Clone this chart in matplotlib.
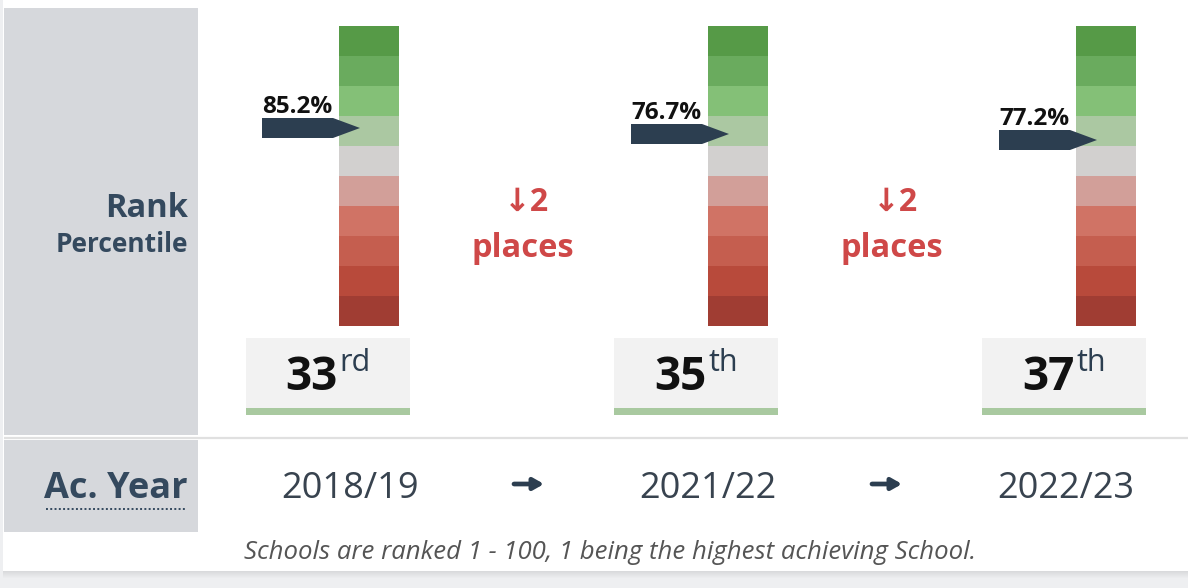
import matplotlib
matplotlib.use('Agg')
import matplotlib.pyplot as plt
from matplotlib.patches import Rectangle, Polygon

# ---------------- data ----------------
years = ['2018/19', '2021/22', '2022/23']
ranks = [33, 35, 37]
percentiles = [85.2, 76.7, 77.2]
suffixes = ['rd', 'th', 'th']
changes = [-2, -2]          # places moved between consecutive years
band_edges = [0, 10, 20, 30, 40, 50, 60, 70, 80, 90, 100]
band_colors = ['#569a47', '#6aab5e', '#84c077', '#abc8a2', '#d2d0cf',
               '#d29f99', '#d07365', '#c55e4f', '#b84a3b', '#a03d33']
footer = 'Schools are ranked 1 - 100, 1 being the highest achieving School.'

# ---------------- layout (pixels) ----------------
W, H = 1188, 588
year_x = [350, 708, 1066]
bar_left = [339, 708, 1076]
bar_top, bar_bottom, bar_w = 26, 326, 60
box_left = [246, 614, 982]
box_w = 164
change_x = [523, 892]
arrow_year_x = [529, 887]

FONT = ['Open Sans', 'DejaVu Sans']
plt.rcParams['font.family'] = FONT
SLATE = '#34495e'
NAVY = '#2c3e50'
RED = '#cf4848'

fig = plt.figure(figsize=(W / 100, H / 100), dpi=100, facecolor='#eeeff1')
bg = fig.add_axes([0, 0, 1, 1])
bg.set_xlim(0, W)
bg.set_ylim(H, 0)
bg.axis('off')

# card with soft shadow
for k in range(1, 8):
    bg.add_patch(Rectangle((3, -10), W + 20, 581 + k, fc='black', alpha=0.012, lw=0))
bg.add_patch(Rectangle((3, -10), W + 20, 581, fc='white', lw=0))

# left header panels
bg.add_patch(Rectangle((4, 8), 194, 427, fc='#d6d8dc', lw=0))
bg.add_patch(Rectangle((4, 440), 194, 92, fc='#d6d8dc', lw=0))
bg.plot([4, W], [437.5, 437.5], color='#e0e0e0', lw=1.6, solid_capstyle='butt')

bg.text(188, 217, 'Rank', ha='right', va='baseline', fontsize=23.5,
        fontweight='bold', color=SLATE)
bg.text(188, 252, 'Percentile', ha='right', va='baseline', fontsize=19,
        fontweight='bold', color=SLATE)
acy = bg.text(188, 498, 'Ac. Year', ha='right', va='baseline', fontsize=26,
              fontweight='bold', color=SLATE)

# percentile bars
unit_x = 1.0 / bar_w                       # data units per pixel (x)
unit_y = 100.0 / (bar_bottom - bar_top)    # data units per pixel (y)
for i in range(len(years)):
    ax = fig.add_axes([bar_left[i] / W, 1 - bar_bottom / H, bar_w / W,
                       (bar_bottom - bar_top) / H])
    ax.set_xlim(0, 1)
    ax.set_ylim(100, 0)
    ax.axis('off')
    for k, c in enumerate(band_colors):
        ax.bar(0.5, band_edges[k + 1] - band_edges[k], bottom=band_edges[k],
               width=1, color=c, lw=0)
    cy = ranks[i] + 1
    hh = 10 * unit_y
    x0, xb, xt = -77 * unit_x, -6 * unit_x, 21 * unit_x
    ax.add_patch(Polygon([(x0, cy - hh), (xb, cy - hh), (xt, cy),
                          (xb, cy + hh), (x0, cy + hh)], closed=True,
                         fc=NAVY, lw=0, clip_on=False, zorder=5))
    ax.text(x0, cy - hh - 5 * unit_y, f'{percentiles[i]}%', ha='left',
            va='baseline', fontsize=17.5, fontweight='bold', color='#111111',
            clip_on=False)

# rank boxes
rank_texts = []
for i in range(len(years)):
    bg.add_patch(Rectangle((box_left[i], 338), box_w, 70, fc='#f2f2f2', lw=0))
    bg.add_patch(Rectangle((box_left[i], 408), box_w, 7, fc='#a9c9a0', lw=0))
    t1 = bg.text(box_left[i] + box_w / 2, 390, str(ranks[i]), ha='left',
                 va='baseline', fontsize=33, fontweight='bold', color='#111111')
    t2 = bg.annotate(suffixes[i], xy=(1, 1), xycoords=t1, xytext=(1, 4),
                     textcoords='offset points', ha='left', va='top',
                     fontsize=22, color=NAVY)
    rank_texts.append((t1, t2, box_left[i] + box_w / 2))

# change labels between years
for j, ch in enumerate(changes):
    arrow = '\u2193' if ch < 0 else '\u2191'
    n = abs(ch)
    bg.text(change_x[j] + 3, 211, f'{arrow}{n}', ha='center', va='baseline',
            fontsize=23, fontweight='bold', color=RED)
    bg.text(change_x[j], 257, 'places' if n != 1 else 'place', ha='center',
            va='baseline', fontsize=23.5, fontweight='bold', color=RED)

# years row
for i, y in enumerate(years):
    bg.text(year_x[i], 498, y, ha='center', va='baseline', fontsize=26,
            color='#38434f')
for x in arrow_year_x:
    bg.annotate('', xy=(x + 15, 484), xytext=(x - 15, 484),
                arrowprops=dict(arrowstyle='-|>,head_length=0.3,head_width=0.17',
                                lw=3.4, color=NAVY, shrinkA=0, shrinkB=0,
                                mutation_scale=20))

bg.text(610, 559, footer, ha='center', va='baseline', fontsize=18.5,
        style='italic', color='#555555')

# centre rank + suffix, underline Ac. Year
fig.canvas.draw()
r = fig.canvas.get_renderer()
for t1, t2, cx in rank_texts:
    b1 = t1.get_window_extent(r)
    b2 = t2.get_window_extent(r)
    total = b2.x1 - b1.x0
    t1.set_x(cx - total / 2)
b = acy.get_window_extent(r)
bg.plot([b.x0 + 2, b.x1 - 1], [509, 509], color=SLATE, lw=1.4,
        ls=(0, (1, 1.2)))

fig.savefig('out.png', dpi=100, facecolor=fig.get_facecolor())
